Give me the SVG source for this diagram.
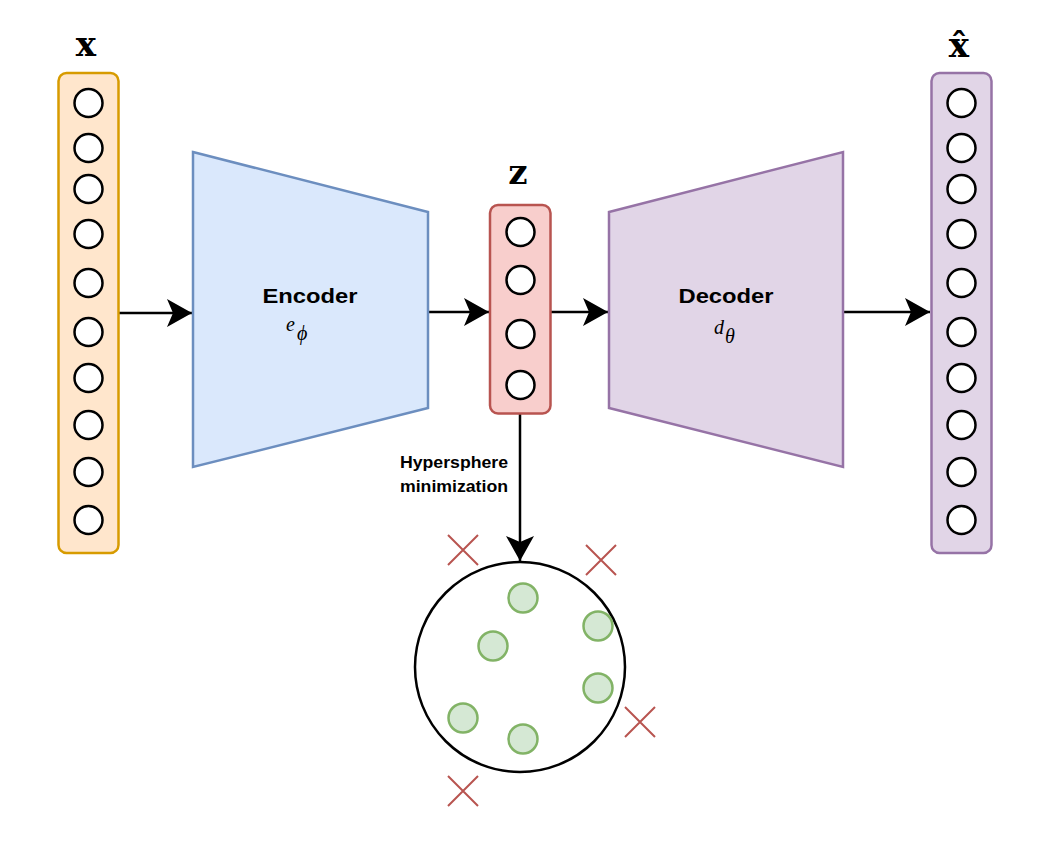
<svg xmlns="http://www.w3.org/2000/svg" width="1049" height="841" viewBox="0 0 1049 841">
<defs>
<style>
.unit{fill:#ffffff;stroke:#000000;stroke-width:2.5}
.conn{stroke:#000000;stroke-width:2.5;fill:none}
.lbl{font-family:"DejaVu Serif",serif;font-weight:bold;font-size:34px;text-anchor:middle}
.title{font-family:"Liberation Sans",Arial,sans-serif;font-weight:bold;font-size:21px;text-anchor:middle}
.math{font-family:"Liberation Serif",serif;font-style:italic;font-size:20px}
.small{font-family:"Liberation Sans",Arial,sans-serif;font-weight:bold;font-size:16px;text-anchor:middle}
.pt{fill:#d5e8d4;stroke:#82b366;stroke-width:2.5}
.cross{stroke:#b85450;stroke-width:2;fill:none}
</style>
<marker id="arr" markerWidth="26" markerHeight="28" refX="25" refY="14" orient="auto" markerUnits="userSpaceOnUse">
<path d="M0,0 L25,14 L0,28 L6,14 Z" fill="#000000"/>
</marker>
</defs>
<rect width="1049" height="841" fill="#ffffff"/>

<g id="connectors">
<line class="conn" x1="119" y1="313" x2="192" y2="313" marker-end="url(#arr)"/>
<line class="conn" x1="428" y1="312" x2="489" y2="312" marker-end="url(#arr)"/>
<line class="conn" x1="551" y1="312" x2="608" y2="312" marker-end="url(#arr)"/>
<line class="conn" x1="843" y1="312" x2="930" y2="312" marker-end="url(#arr)"/>
<line class="conn" x1="520" y1="414" x2="520" y2="561" marker-end="url(#arr)"/>
<text class="small" x="454" y="468" textLength="108" lengthAdjust="spacingAndGlyphs">Hypersphere</text>
<text class="small" x="454" y="492" textLength="108" lengthAdjust="spacingAndGlyphs">minimization</text>
</g>

<g id="input-x">
<text class="lbl" x="86" y="56">x</text>
<rect x="58.5" y="73" width="60" height="480" rx="8" fill="#ffe6cc" stroke="#d79b00" stroke-width="2.5"/>
<circle class="unit" cx="88.5" cy="103" r="14"/>
<circle class="unit" cx="88.5" cy="148" r="14"/>
<circle class="unit" cx="88.5" cy="189" r="14"/>
<circle class="unit" cx="88.5" cy="234" r="14"/>
<circle class="unit" cx="88.5" cy="283" r="14"/>
<circle class="unit" cx="88.5" cy="332" r="14"/>
<circle class="unit" cx="88.5" cy="378" r="14"/>
<circle class="unit" cx="88.5" cy="425" r="14"/>
<circle class="unit" cx="88.5" cy="472" r="14"/>
<circle class="unit" cx="88.5" cy="520" r="14"/>
</g>

<g id="encoder">
<polygon points="193,152 428,212 428,408 193,467" fill="#dae8fc" stroke="#6c8ebf" stroke-width="2.5"/>
<text class="title" x="310" y="303" textLength="95" lengthAdjust="spacingAndGlyphs">Encoder</text>
<text class="math" x="286" y="331">e</text>
<text class="math" x="297" y="340" font-size="19">ϕ</text>
</g>

<g id="latent-z">
<text class="lbl" x="518" y="184">z</text>
<rect x="490" y="205" width="60.5" height="208.5" rx="8" fill="#f8cecc" stroke="#b85450" stroke-width="2.5"/>
<circle class="unit" cx="520.5" cy="232" r="14"/>
<circle class="unit" cx="520.5" cy="280" r="14"/>
<circle class="unit" cx="520.5" cy="334" r="14"/>
<circle class="unit" cx="520.5" cy="385" r="14"/>
</g>

<g id="decoder">
<polygon points="609,212 843,152 843,467 609,408" fill="#e1d5e7" stroke="#9673a6" stroke-width="2.5"/>
<text class="title" x="726" y="303" textLength="95" lengthAdjust="spacingAndGlyphs">Decoder</text>
<text class="math" x="714" y="334">d</text>
<text class="math" x="725" y="343" font-size="18">θ</text>
</g>

<g id="output-xhat">
<text class="lbl" x="959" y="57">x̂</text>
<rect x="931.5" y="73" width="60" height="480" rx="8" fill="#e1d5e7" stroke="#9673a6" stroke-width="2.5"/>
<circle class="unit" cx="961.5" cy="103" r="14"/>
<circle class="unit" cx="961.5" cy="148" r="14"/>
<circle class="unit" cx="961.5" cy="189" r="14"/>
<circle class="unit" cx="961.5" cy="234" r="14"/>
<circle class="unit" cx="961.5" cy="283" r="14"/>
<circle class="unit" cx="961.5" cy="332" r="14"/>
<circle class="unit" cx="961.5" cy="378" r="14"/>
<circle class="unit" cx="961.5" cy="425" r="14"/>
<circle class="unit" cx="961.5" cy="472" r="14"/>
<circle class="unit" cx="961.5" cy="520" r="14"/>
</g>

<g id="hypersphere">
<circle cx="520" cy="667" r="105" fill="#ffffff" stroke="#000000" stroke-width="2.5"/>
<circle class="pt" cx="523" cy="598" r="14.5"/>
<circle class="pt" cx="598" cy="626" r="14.5"/>
<circle class="pt" cx="493" cy="646" r="14.5"/>
<circle class="pt" cx="598" cy="688" r="14.5"/>
<circle class="pt" cx="463" cy="718" r="14.5"/>
<circle class="pt" cx="523" cy="739" r="14.5"/>
</g>

<g id="outliers">
<path class="cross" d="M448,535 L478,565 M478,535 L448,565"/>
<path class="cross" d="M586,545 L616,575 M616,545 L586,575"/>
<path class="cross" d="M625,707 L655,737 M655,707 L625,737"/>
<path class="cross" d="M448,776 L478,806 M478,776 L448,806"/>
</g>
</svg>
